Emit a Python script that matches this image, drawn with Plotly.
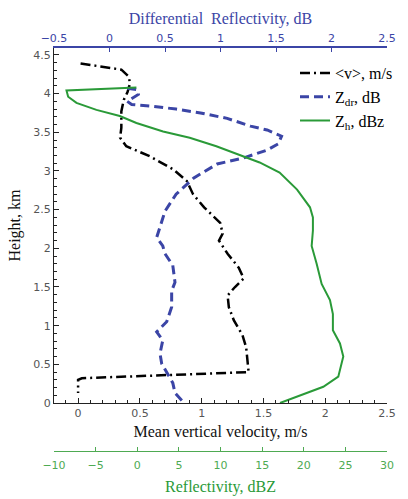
import plotly.graph_objects as go

# Mean vertical velocity profile (m/s) vs height (km)
vel_h = [4.39, 4.31, 4.22, 4.13, 4.02, 3.92, 3.77, 3.56, 3.43, 3.32, 3.19, 3.02, 2.87, 2.70,
         2.53, 2.33, 2.19, 2.10, 1.93, 1.75, 1.61, 1.50, 1.39, 1.24, 1.07, 0.88, 0.72, 0.55,
         0.42, 0.40, 0.32, 0.30, 0.13]
vel = [0.02, 0.35, 0.41, 0.42, 0.40, 0.37, 0.35, 0.35, 0.34, 0.39, 0.58, 0.77, 0.88, 0.93,
       1.02, 1.15, 1.17, 1.14, 1.21, 1.30, 1.34, 1.27, 1.21, 1.22, 1.26, 1.33, 1.36, 1.37,
       1.38, 1.38, 0.03, 0.00, 0.00]

# Differential reflectivity (dB) vs height (km)
zdr_h = [4.07, 4.05, 3.99, 3.90, 3.86, 3.84, 3.80, 3.75, 3.68, 3.58, 3.53, 3.45, 3.35, 3.27,
         3.17, 3.09, 2.91, 2.70, 2.48, 2.30, 2.14, 2.03, 1.93, 1.78, 1.56, 1.45, 1.24, 1.05,
         0.92, 0.81, 0.64, 0.51, 0.39, 0.26, 0.13, 0.02]
zdr = [0.16, 0.25, 0.26, 0.16, 0.20, 0.37, 0.60, 0.82, 1.06, 1.27, 1.42, 1.55, 1.52, 1.42,
       1.21, 0.97, 0.76, 0.60, 0.50, 0.46, 0.425, 0.48, 0.50, 0.57, 0.59, 0.56, 0.56, 0.515,
       0.425, 0.48, 0.455, 0.47, 0.515, 0.57, 0.59, 0.66]

# Reflectivity (dBZ) vs height (km)
zh_h = [4.08, 4.04, 3.96, 3.88, 3.79, 3.71, 3.62, 3.51, 3.43, 3.32, 3.19, 3.11, 2.98, 2.76,
        2.53, 2.40, 2.23, 2.03, 1.80, 1.54, 1.33, 1.15, 0.94, 0.77, 0.60, 0.34, 0.21, 0.10, 0.0]
zh = [-0.1, -8.5, -8.3, -7.3, -4.9, -2.1, -0.1, 3.1, 6.3, 9.5, 12.7, 14.7, 17.1, 19.2,
      20.75, 21.1, 21.1, 20.95, 21.55, 22.15, 23.15, 23.5, 23.5, 24.35, 24.75, 24.15, 22.35,
      19.55, 17.15]

vel_ticks = [0, 0.5, 1, 1.5, 2, 2.5]
zdr_ticks = [-0.5, 0, 0.5, 1, 1.5, 2, 2.5]
zh_ticks = [-10, -5, 0, 5, 10, 15, 20, 25, 30]
h_ticks = [0, 0.5, 1, 1.5, 2, 2.5, 3, 3.5, 4, 4.5]

BLUE = "#3b45a6"
GREEN_LINE = "#2a9a38"
GREEN_AX = "#4eaa52"
SERIF = "Liberation Serif"
SANS = "DejaVu Sans"

fig = go.Figure()
fig.add_trace(go.Scatter(x=zh, y=zh_h, xaxis="x3", yaxis="y", mode="lines",
                         line=dict(color=GREEN_LINE, width=2),
                         name="Z<sub>h</sub>, dBz"))
fig.add_trace(go.Scatter(x=zdr, y=zdr_h, xaxis="x2", yaxis="y", mode="lines",
                         line=dict(color=BLUE, width=3, dash="9px,5px"),
                         name="Z<sub>dr</sub>, dB"))
fig.add_trace(go.Scatter(x=vel, y=vel_h, xaxis="x", yaxis="y", mode="lines",
                         line=dict(color="black", width=2.5, dash="10px,4px,2px,4px"),
                         name="&lt;v&gt;, m/s"))

H = 499
mt, mb = 48, 5
ph = H - mt - mb
y_bottom_px = 403
green_px = 451
ydom0 = (H - mb - y_bottom_px) / ph
gpos = (H - mb - green_px) / ph

tickfont = dict(family=SANS, size=11, color="#555")

fig.update_layout(
    width=408, height=H,
    margin=dict(l=54, r=21, t=mt, b=mb, autoexpand=False),
    plot_bgcolor="white", paper_bgcolor="white",
    showlegend=True,
    legend=dict(x=(295 - 54) / 333, y=(H - mb - 56) / ph, xanchor="left", yanchor="top",
                bgcolor="rgba(0,0,0,0)", traceorder="reversed",
                font=dict(family=SERIF, size=16, color="black")),
    xaxis=dict(range=[-0.195, 2.5], anchor="y", side="bottom", automargin=False,
               showline=True, linecolor="#222", linewidth=1.2,
               ticks="inside", ticklen=5, tickcolor="#222",
               tickvals=vel_ticks, showgrid=False, zeroline=False,
               minor=dict(dtick=0.1, ticks="inside", ticklen=3, tickcolor="#222"),
               tickfont=tickfont,
               title=dict(text="Mean vertical velocity, m/s", standoff=6,
                          font=dict(family=SERIF, size=16, color="#111"))),
    xaxis2=dict(range=[-0.5, 2.5], overlaying="x", anchor="y", side="top", automargin=False,
                showline=True, linecolor=BLUE, linewidth=1.5,
                ticks="inside", ticklen=4, tickcolor=BLUE,
                tickvals=zdr_ticks, showgrid=False, zeroline=False,
                tickfont=dict(family=SANS, size=11, color=BLUE),
                title=dict(text="Differential\u00a0 Reflectivity, dB", standoff=3,
                           font=dict(family=SERIF, size=16, color=BLUE))),
    xaxis3=dict(range=[-10, 30], overlaying="x", anchor="free", position=gpos,
                side="bottom", showline=True, linecolor=GREEN_AX, linewidth=1.2,
                automargin=False, ticklabelstandoff=4,
                ticks="inside", ticklen=4, tickcolor=GREEN_AX,
                tickvals=zh_ticks, showgrid=False, zeroline=False,
                tickfont=dict(family=SANS, size=11, color=GREEN_AX),
                title=dict(text="Reflectivity, dBZ", standoff=9,
                           font=dict(family=SERIF, size=16, color=GREEN_LINE))),
    yaxis=dict(range=[0, 4.59], domain=[ydom0, 1], anchor="x", automargin=False,
               showline=True, linecolor="#222", linewidth=1.2,
               ticks="inside", ticklen=5, tickcolor="#222",
               tickvals=h_ticks, showgrid=False, zeroline=False,
               minor=dict(dtick=0.1, ticks="inside", ticklen=3, tickcolor="#222"),
               tickfont=tickfont,
               title=dict(text="Height, km", standoff=8,
                          font=dict(family=SERIF, size=16, color="#111"))),
)

fig.write_html("out.html", config={"displayModeBar": False},
               post_script="document.body.style.margin='0';document.body.style.overflow='hidden';")
